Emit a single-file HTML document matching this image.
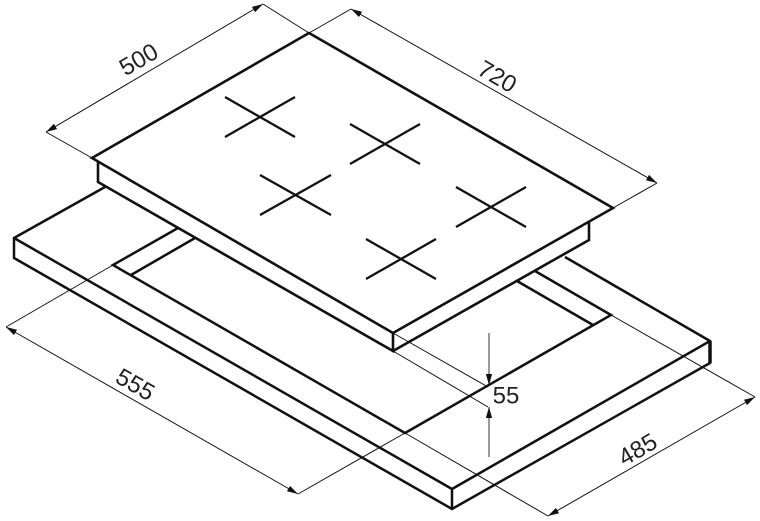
<!DOCTYPE html>
<html>
<head>
<meta charset="utf-8">
<style>
html,body{margin:0;padding:0;background:#fff;width:760px;height:521px;overflow:hidden}
svg{display:block}
text{font-family:"Liberation Sans",sans-serif;fill:#222;text-anchor:middle;dominant-baseline:central}
</style>
</head>
<body>
<svg width="760" height="521" viewBox="0 0 760 521" xmlns="http://www.w3.org/2000/svg">
<defs>
<marker id="a" viewBox="0 0 11 7" refX="11" refY="3.5" markerWidth="11" markerHeight="7" markerUnits="userSpaceOnUse" orient="auto-start-reverse">
<path d="M0 0.4L11 3.5L0 6.6Z" fill="#111"/>
</marker>
</defs>
<rect width="760" height="521" fill="#fff"/>

<!-- thin dimension lines -->
<g fill="none" stroke="#111" stroke-width="1">
<path d="M92 158L46 132"/><path d="M309 33L263 4"/>
<path d="M46 132L263 4" marker-start="url(#a)" marker-end="url(#a)"/>
<path d="M309 33L351 9"/><path d="M613 208L657 183"/>
<path d="M351 9L657 183" marker-start="url(#a)" marker-end="url(#a)"/>
<path d="M113 265L6 327"/><path d="M405 433L298 494"/>
<path d="M6 327L298 494" marker-start="url(#a)" marker-end="url(#a)"/>
<path d="M405 433L548 516"/><path d="M611 315L755 397"/>
<path d="M548 516L755 397" marker-start="url(#a)" marker-end="url(#a)"/>
<path d="M393 333L488 387"/><path d="M393 351L488 407"/>
</g>
<g fill="none" stroke="#555" stroke-width="1.2">
<path d="M489 333V385" marker-end="url(#a)"/>
<path d="M489 457V407" marker-end="url(#a)"/>
</g>

<!-- worktop -->
<g fill="none" stroke="#111" stroke-width="2.5" stroke-linejoin="miter" stroke-linecap="butt">
<path d="M105 187L14 238V258L452 509L710 363V341L565 257"/>
<path d="M14 238L452 489L710 341"/>
<path d="M452 489V509"/>
<path d="M710 341V363" stroke-width="3.5"/>
<!-- cutout -->
<path d="M178 228L113 265L405 433L611 315L535 271"/>
<path d="M195 238L131 275"/>
<path d="M593 325L517 281"/>
</g>

<!-- hob plate -->
<g fill="none" stroke="#111" stroke-width="2.6" stroke-linejoin="miter">
<path d="M92 158L309 33L613 208L393 333Z"/>
<path d="M98 162V182L393 351V333"/>
<path d="M393 351L589 240V221"/>
</g>

<!-- burners -->
<g fill="none" stroke="#111" stroke-width="2.3">
<path d="M225 97L295 137M225 137L295 97"/>
<path d="M350 124L420 164M350 164L420 124"/>
<path d="M260 175L331 215M260 215L331 175"/>
<path d="M456 187L526 227M456 227L526 187"/>
<path d="M366 239L436 279M366 279L436 239"/>
</g>

<!-- labels -->
<text x="139" y="60" font-size="24" transform="rotate(-30 139 60)">500</text>
<text x="497" y="77" font-size="24" transform="rotate(30 497 77)">720</text>
<text x="135" y="385" font-size="24" transform="rotate(30 135 385)">555</text>
<text x="638" y="450" font-size="24" transform="rotate(-30 638 450)">485</text>
<text x="506" y="396" font-size="24">55</text>
</svg>
</body>
</html>
